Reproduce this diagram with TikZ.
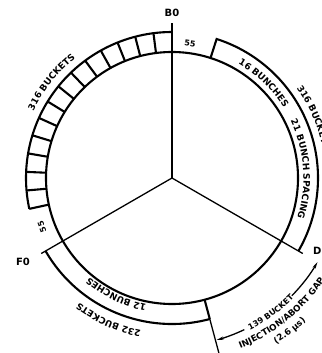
\documentclass[tikz,border=0pt]{standalone}
\usepackage{fontspec}
\setmainfont{DejaVu Sans}
\usetikzlibrary{decorations.text,arrows.meta}
\newcommand\lblfont{\fontsize{9}{10}\selectfont\bfseries}
\newcommand\smlfont{\fontsize{8}{9}\selectfont\bfseries}
\newcommand\gapfont{\fontsize{8.7}{9}\selectfont\bfseries}
\newcommand\tagfont{\fontsize{10}{11}\selectfont\bfseries}
\begin{document}
\begin{tikzpicture}[x=1pt,y=1pt,
  ring/.style={line width=2.1pt},
  spoke/.style={line width=1.3pt},
  lbl/.style={font=\tagfont, inner sep=0pt},
  small/.style={font=\smlfont, inner sep=0pt},
  gaparrow/.style={spoke,-{Stealth[length=7pt,width=3.2pt]}},
  arctext/.style={decorate, decoration={text along path, text align=center, text={#1}}}
 ]
\useasboundingbox (-172,-175) rectangle (149,178);
\coordinate (c) at (0,0);
\coordinate (b0end) at (90:155);
\coordinate (f0end) at (210:151);
\coordinate (d0end) at (330:151);
% main circle
\draw[ring] (c) circle[radius=126];
% spokes
\draw[spoke] (c) -- (b0end);
\draw[spoke] (c) -- (f0end);
\draw[spoke] (c) -- (d0end);
% bucket ring (top left)
\draw[ring] (90:146) arc[start angle=90, end angle=192.2, radius=146];
\foreach \k in {1,...,14} \draw[ring] ({90+\k*7.3}:126) -- ({90+\k*7.3}:146);
% right ring
\draw[ring] (72.2:126) -- (72.2:146) arc[start angle=72.2, end angle=-30, radius=146];
% lower ring
\draw[ring] (210:146) arc[start angle=210, end angle=285, radius=146];
\draw[ring] (285:126) -- (285:146);
\coordinate (gapend) at (285:182);
\draw[spoke] (285:146) -- (gapend);
% gap arrows
\draw[gaparrow] (315.5:168) arc[start angle=315.5, end angle=330, radius=168];
\draw[gaparrow] (295.5:168) arc[start angle=295.5, end angle=285.4, radius=168];
% labels
\node[lbl] (B0) at (90:165) {B0};
\node[lbl] (F0) at (-149,-84) {F0};
\node[lbl, anchor=west] (D0) at (141,-73) {D0};
\node[small, rotate=-7.6] (n55a) at (82.4:136) {55};
\node[small, rotate=110.6] (n55b) at (200.6:139) {55};
% curved texts (tops outward, clockwise)
\path[arctext={|\lblfont|316 BUCKETS}] (170:154) arc[start angle=170, end angle=113, radius=154];
\path[arctext={|\lblfont|16 BUNCHES}] (70:132) arc[start angle=70, end angle=22, radius=132];
\path[arctext={|\lblfont|21 BUNCH SPACING}] (34:131.5) arc[start angle=34, end angle=-26, radius=131.5];
\path[arctext={|\lblfont|316 BUCKETS}] (53:153.5) arc[start angle=53, end angle=-7, radius=153.5];
\path[arctext={|\lblfont|12 BUNCHES}] (268:129) arc[start angle=268, end angle=220.8, radius=129];
\path[arctext={|\lblfont|232 BUCKETS}] (272:155.5) arc[start angle=272, end angle=219.8, radius=155.5];
% curved texts (tops inward, counterclockwise)
\path[arctext={|\smlfont|139 BUCKET}] (286:171) arc[start angle=286, end angle=326.6, radius=171];
\path[arctext={|\gapfont|INJECTION/ABORT GAP}] (279:183.5) arc[start angle=279, end angle=339, radius=183.5];
\path[arctext={|\gapfont|(2.6 μs)}] (285:196) arc[start angle=285, end angle=330.2, radius=196];
\end{tikzpicture}
\end{document}
